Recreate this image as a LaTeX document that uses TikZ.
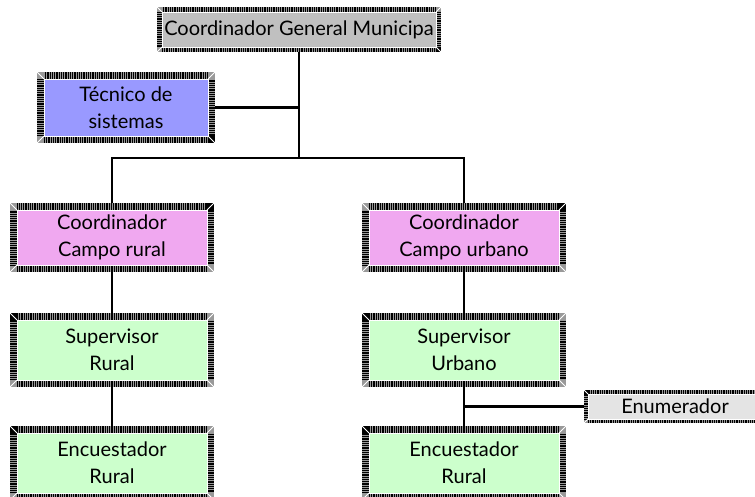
\documentclass[tikz,border=0pt]{standalone}
\usepackage{fontspec}
\setmainfont{Lato}
\usetikzlibrary{positioning,backgrounds}

\definecolor{grisjefe}{HTML}{C0C0C0}
\definecolor{lilatec}{HTML}{9999FF}
\definecolor{rosacoord}{HTML}{F0A8F0}
\definecolor{verdecaja}{HTML}{CCFFCC}
\definecolor{grisenum}{HTML}{E4E4E4}

\begin{document}
\begin{tikzpicture}[
    x=1pt,
    y=-1pt,
    caja/.style={
        rectangle,
        minimum width=190pt,
        minimum height=55pt,
        inner sep=1pt,
        outer sep=0pt,
        align=center,
        font=\fontsize{20}{27}\selectfont
    },
    marco/.style={
        preaction={draw=gray!80, line width=#1, line join=miter},
        preaction={draw=black, line width=#1, line join=miter, dash pattern=on 0.9pt off 0.9pt},
        postaction={draw=white, line width=0.9pt}
    },
    bisel/.style={
        draw=white,
        line width=0.9pt
    },
    linea/.style={
        draw=black,
        line width=2.2pt
    }
]
\useasboundingbox (0,0) rectangle (755,496);

% Jefatura
\node[caja, fill=grisjefe, minimum width=274pt, minimum height=35pt, marco=10pt] (coordgen) at (299,29.5) {Coordinador General Municipa};
\node[caja, fill=lilatec, minimum width=164pt, minimum height=57pt, marco=14pt] (tecnico) at (126,107.5) {Técnico de\\sistemas};

% Coordinadores de campo
\node[caja, fill=rosacoord, marco=14pt] (coordrural) at (112,237.5) {Coordinador\\Campo rural};
\node[caja, fill=rosacoord, marco=14pt, right=162pt of coordrural] (coordurbano) {Coordinador\\Campo urbano};

% Supervisores
\node[caja, fill=verdecaja, minimum height=60pt, marco=14pt, below=55pt of coordrural] (suprural) {Supervisor\\Rural};
\node[caja, fill=verdecaja, minimum height=60pt, marco=14pt, below=55pt of coordurbano] (supurbano) {Supervisor\\Urbano};

% Encuestadores
\node[caja, fill=verdecaja, minimum height=60pt, marco=14pt, below=53pt of suprural] (encrural) {Encuestador\\Rural};
\node[caja, fill=verdecaja, minimum height=60pt, marco=14pt, below=53pt of supurbano] (encurbano) {Encuestador\\Rural};
\node[caja, fill=grisenum, minimum width=174pt, minimum height=25pt, marco=8pt] (enumerador) at (675,406.5) {Enumerador};

% Biseles de las esquinas
\foreach \c/\m in {coordgen/5, tecnico/7, coordrural/7, coordurbano/7, suprural/7, supurbano/7, encrural/7, encurbano/7, enumerador/4}{
    \draw[bisel] (\c.north west) -- ++(-\m,-\m)
        (\c.north east) -- ++(\m,-\m)
        (\c.south west) -- ++(-\m,\m)
        (\c.south east) -- ++(\m,\m);
}

% Conexiones
\begin{scope}[on background layer]
\coordinate (bus) at (299,158);
\draw[linea] (coordgen) -- (bus);
\draw[linea] (tecnico) -- (tecnico -| bus);
\draw[linea] (coordrural) |- (bus) -| (coordurbano);
\draw[linea] (coordrural) -- (suprural);
\draw[linea] (suprural) -- (encrural);
\draw[linea] (coordurbano) -- (supurbano);
\draw[linea] (supurbano) -- (encurbano);
\draw[linea] (enumerador) -- (enumerador -| supurbano);
\end{scope}

\end{tikzpicture}
\end{document}
